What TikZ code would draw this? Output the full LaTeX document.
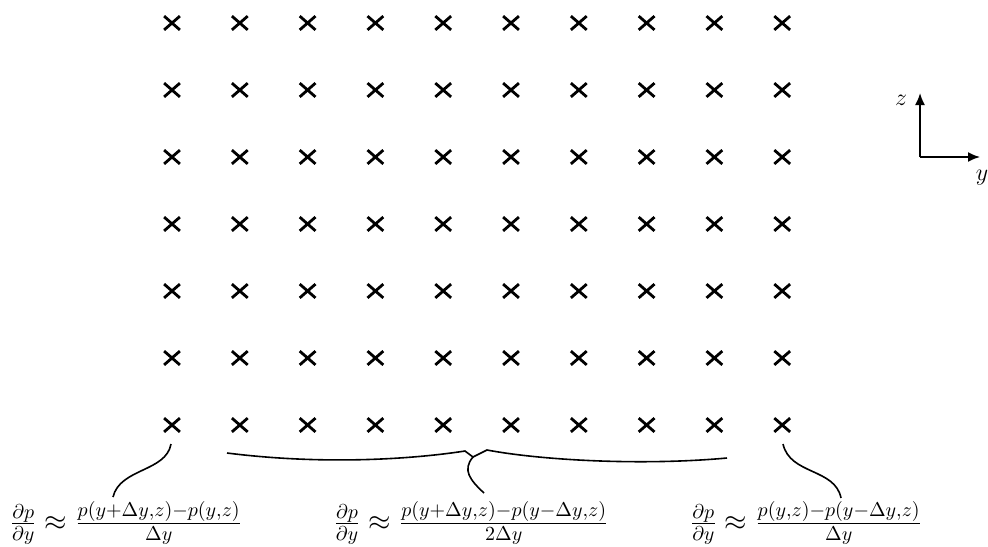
\documentclass[tikz,border=0pt]{standalone}
\usetikzlibrary{shapes.misc,arrows.meta}
\begin{document}
\begin{tikzpicture}[x=0.5pt,y=-0.5pt,
  pt/.style={cross out,draw,line width=1.4pt,inner sep=0pt,minimum width=6.5pt,minimum height=5.5pt},
  conn/.style={line width=0.8pt},
  formula/.style={inner sep=0pt,font=\Large}]
\useasboundingbox (0,0) rectangle (988,546);
\foreach \i in {1,...,10}{
  \foreach \j in {1,...,7}{
    \node[pt] (c-\i-\j) at ({172+67.8*(\i-1)},{23+67*(\j-1)}) {};
  }
}
% formulas
\node[formula] (fl) at (126,523) {$\frac{\partial p}{\partial y} \approx \frac{p(y+\Delta y,z)-p(y,z)}{\Delta y}$};
\node[formula] (fm) at (471,523) {$\frac{\partial p}{\partial y} \approx \frac{p(y+\Delta y,z)-p(y-\Delta y,z)}{2\Delta y}$};
\node[formula] (fr) at (806,523) {$\frac{\partial p}{\partial y} \approx \frac{p(y,z)-p(y-\Delta y,z)}{\Delta y}$};
% connectors
\coordinate (l1) at (171,444);
\coordinate (l2) at (113,497);
\draw[conn] (l1) .. controls (166,472) and (120,468) .. (l2);
\coordinate (r1) at (783,444);
\coordinate (r2) at (841,498);
\draw[conn] (r1) .. controls (790,475) and (835,468) .. (r2);
\coordinate (b1) at (227,453);
\coordinate (b2) at (727,458);
\coordinate (bt) at (473,457);
\coordinate (bd) at (484,493);
\draw[conn] (b1) .. controls (330,466) and (420,458) .. (465,451) -- (bt) -- (487,450) .. controls (540,460) and (640,466) .. (b2);
\draw[conn] (bt) .. controls (462,470) and (470,480) .. (bd);
% axes
\coordinate (o) at (920,157);
\coordinate (zt) at (920,93);
\coordinate (yt) at (980,157);
\draw[line width=0.9pt,-{Latex[length=6pt,width=5pt]}] (o) -- (zt);
\draw[line width=0.9pt,-{Latex[length=6pt,width=5pt]}] (o) -- (yt);
\node[font=\large] (zl) at (901,100) {$z$};
\node[font=\large] (yl) at (982,178) {$y$};
\end{tikzpicture}
\end{document}
